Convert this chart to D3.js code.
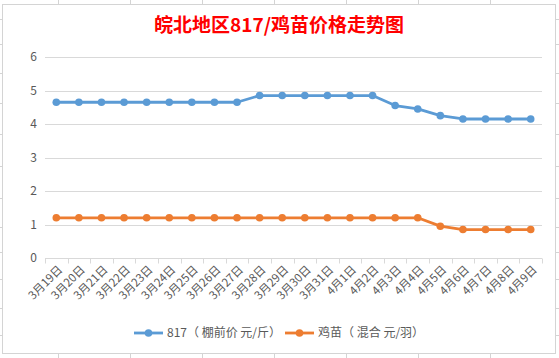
<!DOCTYPE html>
<html><head><meta charset="utf-8">
<script src="https://cdn.jsdelivr.net/npm/d3@7"></script>
<style>html,body{margin:0;padding:0;background:#fff;}svg{display:block;}</style>
</head><body>
<svg id="c" width="559" height="358"></svg>
<script>
const categories = ["3月19日","3月20日","3月21日","3月22日","3月23日","3月24日","3月25日","3月26日","3月27日","3月28日","3月29日","3月30日","3月31日","4月1日","4月2日","4月3日","4月4日","4月5日","4月6日","4月7日","4月8日","4月9日"];
const series817 = [4.65,4.65,4.65,4.65,4.65,4.65,4.65,4.65,4.65,4.85,4.85,4.85,4.85,4.85,4.85,4.55,4.45,4.25,4.15,4.15,4.15,4.15];
const seriesChick = [1.2,1.2,1.2,1.2,1.2,1.2,1.2,1.2,1.2,1.2,1.2,1.2,1.2,1.2,1.2,1.2,1.2,0.95,0.85,0.85,0.85,0.85];
const yTicks = [0,1,2,3,4,5,6];
const seriesNames = ["817（ 棚前价 元/斤）","鸡苗（ 混合 元/羽）"];
const title = "皖北地区817/鸡苗价格走势图";

const svg = d3.select("#c");
const font = "'Microsoft YaHei','Noto Sans CJK SC','Noto Sans',sans-serif";
const colors = ["#5b9bd5","#ed7d31"];

// spreadsheet background grid stubs
const sheet = svg.append("g").attr("stroke","#d4d4d4").attr("stroke-width",1);
[58,130,202,274,346,418,490].forEach(x=>{
  sheet.append("line").attr("x1",x+0.5).attr("x2",x+0.5).attr("y1",0).attr("y2",4);
  sheet.append("line").attr("x1",x+0.5).attr("x2",x+0.5).attr("y1",354).attr("y2",358);
});
[19,44,73,103,134,166,198,227,252,279,308,335].forEach(y=>{
  sheet.append("line").attr("x1",0).attr("x2",2).attr("y1",y+0.5).attr("y2",y+0.5);
  sheet.append("line").attr("x1",556).attr("x2",559).attr("y1",y+0.5).attr("y2",y+0.5);
});
svg.append("rect").attr("x",2.5).attr("y",4.5).attr("width",553).attr("height",349)
  .attr("fill","#fff").attr("stroke","#d4d4d4");

// title
svg.append("text").attr("x",279).attr("y",32).attr("text-anchor","middle")
  .attr("font-family",font).attr("font-size",19).attr("font-weight","bold")
  .attr("fill","#ff0000").text(title);

const x = d3.scaleBand().domain(categories).range([45,542]);
const y = d3.scaleLinear().domain([0,6]).range([258,57]);

// gridlines
svg.append("g").selectAll("line").data(yTicks.filter(d=>d>0)).join("line")
  .attr("x1",45).attr("x2",542).attr("y1",d=>Math.round(y(d))+0.5).attr("y2",d=>Math.round(y(d))+0.5)
  .attr("stroke","#d9d9d9");

// y labels
svg.append("g").selectAll("text").data(yTicks).join("text")
  .attr("x",37).attr("y",d=>y(d)).attr("dy","0.35em").attr("text-anchor","end")
  .attr("font-family",font).attr("font-size",12).attr("fill","#595959").text(d=>d);

// x axis
const xa = svg.append("g").attr("transform","translate(0,"+(Math.round(y(0))+0.5)+")");
xa.append("line").attr("x1",45).attr("x2",542).attr("stroke","#d9d9d9");
const bounds = categories.map(c=>x(c)).concat([x.range()[1]]);
xa.selectAll("line.t").data(bounds).join("line").attr("class","t")
  .attr("x1",d=>Math.round(d)+0.5).attr("x2",d=>Math.round(d)+0.5).attr("y1",0).attr("y2",5)
  .attr("stroke","#d9d9d9");
xa.selectAll("text").data(categories).join("text")
  .attr("transform",d=>"translate("+(x(d)+x.bandwidth()/2+4)+",9) rotate(-45)")
  .attr("text-anchor","end").attr("dy","0.35em")
  .attr("font-family",font).attr("font-size",11.5).attr("fill","#595959").text(d=>d);

// series
const cx = d=>x(d)+x.bandwidth()/2;
[series817, seriesChick].forEach((s,i)=>{
  const line = d3.line().x((d,j)=>cx(categories[j])).y(d=>y(d));
  svg.append("path").datum(s).attr("d",line).attr("fill","none")
    .attr("stroke",colors[i]).attr("stroke-width",2.8).attr("stroke-linejoin","round");
  svg.append("g").selectAll("circle").data(s).join("circle")
    .attr("cx",(d,j)=>cx(categories[j])).attr("cy",d=>y(d)).attr("r",3.8).attr("fill",colors[i]);
});

// legend
const lg = svg.append("g");
const legX = [134,285];
seriesNames.forEach((n,i)=>{
  const g = lg.append("g").attr("transform","translate("+legX[i]+",333)");
  g.append("line").attr("x1",0).attr("x2",29).attr("stroke",colors[i]).attr("stroke-width",2.8);
  g.append("circle").attr("cx",14.5).attr("r",3.8).attr("fill",colors[i]);
  g.append("text").attr("x",33).attr("dy","0.35em").attr("font-family",font)
    .attr("font-size",12).attr("fill","#595959").text(n);
});
</script>
</body></html>
